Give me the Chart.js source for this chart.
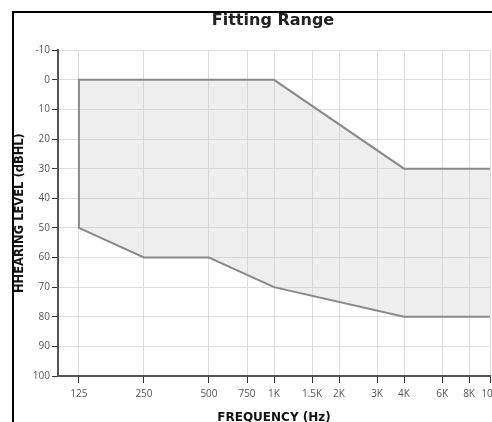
<!DOCTYPE html>
<html lang="en">
<head>
  <meta charset="UTF-8">
  <title>Fitting Range</title>
  <style>
    html, body {
      margin: 0;
      background: white;
      overflow: hidden;
    }
    body {
      width: 492px;
      height: 422px;
      position: relative;
    }
    .line-top {
      position: absolute;
      left: 12px;
      top: 11px;
      width: 480px;
      height: 2px;
      background: #000;
    }
    .line-left {
      position: absolute;
      left: 12px;
      top: 11px;
      width: 2px;
      height: 411px;
      background: #000;
    }
    #fitChart {
      position: absolute;
      left: 14px;
      top: 10px;
    }
  </style>
  <script src="https://cdn.jsdelivr.net/npm/chart.js"></script>
</head>
<body>
  <canvas id="fitChart" width="518" height="425"></canvas>
  <div class="line-top"></div>
  <div class="line-left"></div>

  <script>
    // tick positions on the frequency axis and their labels
    const freqTicks = [125, 250, 500, 750, 1000, 1500, 2000, 3000, 4000, 6000, 8000, 10000];
    const freqLabels = ['125', '250', '500', '750', '1K', '1.5K', '2K', '3K', '4K', '6K', '8K', '10K'];

    // outline of the fitting range (open on the right side)
    const rangeFreq = [10000, 4000, 1000, 125, 125, 250, 500, 1000, 4000, 10000];
    const rangeLevel = [30, 30, 0, 0, 50, 60, 60, 70, 80, 80];

    const points = rangeFreq.map((f, i) => ({ x: f, y: rangeLevel[i] }));

    const tickFont = { family: "'Open Sans', sans-serif", size: 10 };
    const boldFont = "'DejaVu Sans', Verdana, sans-serif";

    const ctx = document.getElementById('fitChart').getContext('2d');
    new Chart(ctx, {
      type: 'scatter',
      data: {
        datasets: [{
          data: points,
          showLine: true,
          fill: 'shape',
          borderColor: '#8a8a8a',
          borderWidth: 2,
          backgroundColor: 'rgba(200, 200, 200, 0.3)',
          pointRadius: 0,
          tension: 0
        }]
      },
      options: {
        responsive: false,
        animation: false,
        plugins: {
          legend: { display: false },
          tooltip: { enabled: false },
          title: {
            display: true,
            text: 'Fitting Range',
            color: '#222',
            font: { family: boldFont, size: 16, weight: 'bold' },
            padding: { top: 1, bottom: 20 }
          }
        },
        scales: {
          x: {
            type: 'logarithmic',
            min: 100,
            max: 10000,
            afterBuildTicks: (scale) => {
              scale.ticks = freqTicks.map(v => ({ value: v }));
            },
            afterFit: (scale) => { scale.height = 59; },
            ticks: {
              autoSkip: false,
              maxRotation: 0,
              padding: 5,
              color: '#555',
              font: tickFont,
              callback: (value, index) => freqLabels[index]
            },
            grid: {
              color: '#dedede',
              lineWidth: 1,
              tickColor: '#333',
              tickLength: 7
            },
            border: { color: '#555', width: 2 },
            title: {
              display: true,
              text: 'FREQUENCY (Hz)',
              color: '#111',
              font: { family: boldFont, size: 12, weight: 'bold', lineHeight: 1 },
              padding: { top: 4, bottom: 11 }
            }
          },
          y: {
            type: 'linear',
            reverse: true,
            min: -10,
            max: 100,
            afterFit: (scale) => { scale.width = 44; },
            ticks: {
              stepSize: 10,
              padding: 2,
              color: '#555',
              font: tickFont
            },
            grid: {
              color: '#dedede',
              lineWidth: 1,
              tickColor: '#333',
              tickLength: 6
            },
            border: { color: '#555', width: 2 },
            title: {
              display: true,
              text: 'HHEARING LEVEL (dBHL)',
              color: '#111',
              font: { family: boldFont, size: 11.5, weight: 'bold', lineHeight: 1 },
              padding: 0
            }
          },
          // empty box on the right so the plot stops at 10K while the title stays centred
          yRight: {
            type: 'linear',
            position: 'right',
            min: -10,
            max: 100,
            afterFit: (scale) => { scale.width = 42; },
            ticks: { display: false },
            grid: { display: false, drawTicks: false },
            border: { display: false }
          }
        }
      }
    });
  </script>
</body>
</html>
